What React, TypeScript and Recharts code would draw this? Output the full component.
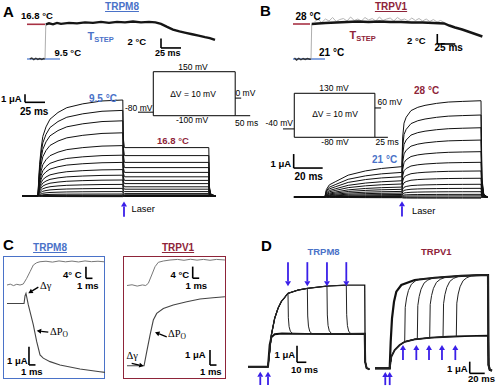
import React from 'react';
import { LineChart, Line, XAxis, YAxis, ReferenceLine } from 'recharts';

// ---------------- colours / fonts
const BLUE = '#4a72c8';
const MAROON = '#8e2439';
const ARROW = '#3a1fe8';
const T_RED = '#a83244';
const T_BLUE = '#6a8fd6';
const SANS = '"Liberation Sans", Arial, Helvetica, sans-serif';
const SERIF = '"Liberation Serif", "Times New Roman", serif';

// ---------------- Panel A : TRPM8 temperature step (°C vs ms)
const aTempPreTime = [-19, -16.5, -14, -11.5, -9, -6.5, -4, -1.5, 0];
const aTempPreValue = [9.5, 9.7, 9.35, 9.65, 9.4, 9.6, 9.4, 9.6, 9.5];
const aTempPostTime = [1, 5, 10, 15, 20, 30, 40, 50, 60, 70, 80, 90, 100, 110, 120, 130, 138, 145, 152, 160, 168, 176, 184, 192, 200, 206, 212.5];
const aTempPostValue = [16.8, 17.0, 16.8, 17.1, 16.9, 17.1, 17.0, 17.2, 17.1, 17.3, 17.1, 17.3, 17.2, 17.4, 17.2, 17.3, 17.2, 16.9, 16.3, 15.7, 15.3, 15.0, 14.7, 14.4, 14.1, 13.9, 13.5];
const aTempLevels = [16.8, 9.5];

// Panel A : current family (µA vs ms), laser at 106 ms
const aActTime = [-20, 0, 0.6, 2, 4, 6, 10, 15, 25, 36, 56, 80, 106];
const aActShape = [0, 0, 0.12, 0.33, 0.5, 0.62, 0.72, 0.8, 0.87, 0.92, 0.96, 0.99, 1];
const aPostTime = [106.6, 108, 115, 150, 213.5];
const aPostShape = [0.8, 1, 1, 1, 1];
const aEndTime = [214.2, 216, 222];
const aEndShape = [0.2, 0.04, 0];
const aPre = [12.0, 10.7, 9.4, 7.9, 6.3, 5.1, 4.2, 3.3, 2.6, 2.0, 1.45, 0.95, 0.55, 0.25, 0.1, 0.03, -0.03, -0.08];
const aPost = [6.05, 5.05, 4.2, 3.55, 2.95, 2.4, 1.95, 1.55, 1.15, 0.85, 0.55, 0.3, 0.15, 0.06, 0.02, 0.0, -0.03, -0.06];
const aLaser = 107.5;

// Panel A : voltage protocol (mV vs ms)
const aProtoHoldTime = [-51, 0];
const aProtoHoldV = [-80, -80];
const aProtoBoxTime = [0, 0, 273, 273, 0];
const aProtoBoxV = [-100, 150, 150, -100, -100];
const aProtoTailTime = [273, 293];
const aProtoTailV = [0, 0];

// ---------------- Panel B : TRPV1 temperature step
const bTempPreTime = [-23, -20, -17, -14, -11, -8, -5, -2, 0];
const bTempPreValue = [21.2, 20.8, 21.15, 20.85, 21.1, 20.9, 21.1, 20.95, 21];
const bTempPostTime = [1, 10, 20, 35, 50, 65, 80, 95, 110, 125, 140, 155, 170, 185, 192, 200, 210, 218, 228, 238];
const bTempPostValue = [28.0, 28.1, 28.2, 28.3, 28.4, 28.5, 28.4, 28.5, 28.4, 28.4, 28.3, 28.3, 28.2, 28.1, 27.7, 27.3, 26.9, 26.5, 26.0, 25.5];
const bNoiseTime = [5, 10, 15, 20, 25, 30, 35, 40, 45, 50, 55, 60, 65, 70, 75, 80, 85, 90, 95, 100, 105, 110, 115, 120, 125, 130, 135, 140, 145, 150, 155, 160, 165, 170, 175, 180, 185];
const bNoiseValue = [28.5, 28.9, 28.3, 29.0, 28.6, 29.3, 28.5, 28.9, 29.1, 28.6, 29.4, 28.7, 29.0, 28.6, 29.3, 28.8, 29.1, 28.6, 29.4, 28.7, 29.0, 29.2, 28.6, 29.3, 28.8, 29.0, 28.6, 29.2, 28.7, 29.1, 28.6, 29.0, 28.5, 28.9, 28.4, 28.7, 28.3];
const bTempLevels = [28, 21];

// Panel B : current family, laser at 53 ms
const bActTime = [-21.4, 0, 0.5, 1, 3, 7, 16, 28, 39, 53];
const bActShape = [0, 0, 0.15, 0.25, 0.4, 0.5, 0.72, 0.86, 0.94, 1];
const bHeatTime = [53.6, 54.5, 56, 59.3, 64, 69, 77, 85, 95, 107.6];
const bHeatShape = [0.45, 0.66, 0.75, 0.85, 0.9, 0.93, 0.96, 0.98, 0.99, 1];
const bEndTime = [108.2, 109.5, 112];
const bEndShape = [0.2, 0.03, 0];
const bPre = [2.17, 1.76, 1.45, 1.16, 0.93, 0.71, 0.55, 0.4, 0.28, 0.18, 0.1, 0.05, 0.02, -0.02, -0.05];
const bPost = [6.88, 5.86, 4.95, 4.07, 3.24, 2.48, 1.86, 1.34, 0.91, 0.62, 0.38, 0.19, 0.08, -0.02, -0.08];
const bLaser = 53.1;

// Panel B : voltage protocol
const bProtoHoldTime = [-21.7, 0];
const bProtoHoldV = [-40, -40];
const bProtoBoxTime = [0, 0, 155, 155, 0];
const bProtoBoxV = [-80, 130, 130, -80, -80];
const bProtoTailTime = [155, 167];
const bProtoTailV = [60, 60];

// ---------------- Panel C : fast kinetics (ms, °C, µA)
const cLTempTime = [-2, -1.5, -1, -0.5, 0, 0.5, 1.03, 1.54, 2.05, 2.57, 3.08, 4, 5, 6, 7, 8, 9, 10, 11, 12, 13];
const cLTempValue = [0, 0.3, -0.2, 0.25, 0, 0.34, 2.31, 4.59, 6.9, 7.69, 8.03, 8.2, 7.9, 8.3, 8.0, 8.25, 7.95, 8.3, 8.05, 8.2, 8.0];
const cLCurTime = [-2, 0.62, 0.77, 0.92, 1.28, 2.05, 2.57, 3.08, 3.58, 4.62, 6.15, 9.23, 12.3, 13.08];
const cLCurValue = [0, 0, 0.41, 0.55, -0.08, -1.17, -2.09, -2.81, -2.99, -3.18, -3.36, -3.58, -3.73, -3.77];
const cRTempTime = [-2.77, -2, -1.2, -0.4, 0.11, 0.51, 1.03, 1.54, 2.05, 2.82, 3.85, 5, 6, 7, 8, 9, 10, 11, 12.3];
const cRTempValue = [0, 0.25, -0.2, 0.2, 0, 0.76, 3.62, 6.48, 8.0, 8.45, 8.79, 9.0, 8.7, 9.05, 8.75, 9.0, 8.7, 9.0, 8.8];
const cRCurTime = [-2.77, -0.15, 0.26, 0.77, 1.28, 1.8, 2.82, 4.35, 6.42, 8.46, 10.46, 12.3];
const cRCurValue = [0, 0, 0.93, 2.05, 3.05, 3.49, 3.82, 4.05, 4.27, 4.45, 4.53, 4.6];

// ---------------- Panel D : TRPM8 (left) deactivation, TRPV1 (right) activation
const dLUpperTime = [-21.5, 0, 1.8, 3.6, 7.2, 10.8, 14.3, 21.5, 32.3, 42.3, 63.4, 84.2, 104];
const dLUpper = [0, 0, 0.9, 1.91, 2.92, 3.52, 3.92, 4.42, 4.62, 4.72, 4.86, 4.92, 4.92];
const dLLowerTime = [-21.5, 0, 1.8, 3.6, 7.2, 15, 40, 80, 104];
const dLLower = [0, 0, 1.31, 1.78, 1.96, 2.0, 1.98, 1.97, 1.99];
const dLSwitchTime = [21.5, 42.3, 63.4, 84.2];
const dLSwitchLow = [1.97, 1.95, 1.96, 1.94];
const dLDropOffset = [0.4, 1.2, 2.5, 5];
const dLDropFrac = [0.4, 0.18, 0.07, 0.01];
const dLEndTime = [104.5, 106, 109];
const dLEndValue = [0.3, -0.08, -0.15];

const dRUpperTime = [-20, -0.4, 0.93, 2.67, 5.33, 8.4, 15.1, 32.9, 59.6, 95.1, 121.7, 130.7];
const dRUpper = [0, 0, 2.27, 4.27, 5.69, 6.55, 7.12, 7.55, 7.74, 7.91, 7.97, 7.97];
const dRLowerTime = [-20, -0.4, 1.73, 6.27, 12.9, 19.6, 32.9, 55.1, 77.3, 99.6, 130.7];
const dRLower = [0, 0, 0.99, 1.56, 1.99, 2.27, 2.48, 2.62, 2.7, 2.76, 2.79];
const dRSwitchTime = [19.6, 36.4, 52.9, 70.7, 88.4];
const dRSwitchLow = [2.27, 2.51, 2.61, 2.68, 2.73];
const dRSwitchHigh = [7.62, 7.7, 7.76, 7.84, 7.9];
const dRRiseOffset = [0.7, 2.5, 5, 9, 14, 20];
const dRRiseFrac = [0.55, 0.7, 0.82, 0.92, 0.97, 1];
const dREndTime = [131.4, 133, 136];
const dREndValue = [0.3, -0.12, -0.2];
const dRArrowTime = [17.3, 35.1, 52, 69.3, 87.1];

// ---------------- helpers
type P = { t: number; v: number };
const zip = (t: number[], v: number[]): P[] => t.map((x, i) => ({ t: x, v: v[i] }));

const aTraces: P[][] = aPre.map((p, i) => {
  const q = aPost[i];
  return [
    ...aActTime.map((t, k) => ({ t, v: p * aActShape[k] })),
    ...aPostTime.map((t, k) => ({ t, v: p + (q - p) * aPostShape[k] })),
    ...aEndTime.map((t, k) => ({ t, v: q * aEndShape[k] })),
  ];
});
const bTraces: P[][] = bPre.map((p, i) => {
  const q = bPost[i];
  return [
    ...bActTime.map((t, k) => ({ t, v: p * bActShape[k] })),
    ...bHeatTime.map((t, k) => ({ t, v: p + (q - p) * bHeatShape[k] })),
    ...bEndTime.map((t, k) => ({ t, v: q * bEndShape[k] })),
  ];
});
const dLUpperPts = zip(dLUpperTime, dLUpper);
const dLLowerPts = zip(dLLowerTime, dLLower);
const dLEndPts = zip(dLEndTime, dLEndValue);
const dLSwitchTraces: P[][] = dLSwitchTime.map((ts, k) => {
  const up = dLUpper[dLUpperTime.indexOf(ts)];
  const low = dLSwitchLow[k];
  return [
    ...dLUpperPts.filter((p) => p.t <= ts),
    ...dLDropOffset.map((o, j) => ({ t: ts + o, v: low + dLDropFrac[j] * (up - low) })),
    ...dLLowerPts.filter((p) => p.t > ts + 5),
    ...dLEndPts,
  ];
});
const dRUpperPts = zip(dRUpperTime, dRUpper);
const dRLowerPts = zip(dRLowerTime, dRLower);
const dREndPts = zip(dREndTime, dREndValue);
const dRSwitchTraces: P[][] = dRSwitchTime.map((ts, k) => {
  const low = dRSwitchLow[k];
  const high = dRSwitchHigh[k];
  return [
    ...dRLowerPts.filter((p) => p.t < ts),
    { t: ts, v: low },
    ...dRRiseOffset.map((o, j) => ({ t: ts + o, v: low + dRRiseFrac[j] * (high - low) })),
    ...dRUpperPts.filter((p) => p.t > ts + 20),
    ...dREndPts,
  ];
});

const ln = (key: string, data: P[], stroke = '#111', w = 1, axis: any = 0) => (
  <Line
    key={key}
    data={data}
    dataKey="v"
    yAxisId={axis}
    type="linear"
    stroke={stroke}
    strokeWidth={w}
    dot={false}
    activeDot={false}
    isAnimationActive={false}
  />
);

const seg = (key: string, x1: number, y1: number, x2: number, y2: number, stroke = '#000', w = 1.5, axis: any = 0) => (
  <ReferenceLine
    key={key}
    yAxisId={axis}
    segment={[{ x: x1, y: y1 }, { x: x2, y: y2 }]}
    stroke={stroke}
    strokeWidth={w}
    ifOverflow="visible"
  />
);

const scaleBar = (key: string, x: number, yTop: number, yBot: number, xEnd: number, axis: any = 0) => [
  seg(key + 'v', x, yTop, x, yBot, '#000', 1.6, axis),
  seg(key + 'h', x, yBot, xEnd, yBot, '#000', 1.6, axis),
];

const arrowShape = (color: string, w: number, hl: number, hw: number) => (p: any) => {
  const { x1, y1, x2, y2 } = p;
  if ([x1, y1, x2, y2].some((n) => typeof n !== 'number' || isNaN(n))) return <g />;
  const dx = x2 - x1;
  const dy = y2 - y1;
  const L = Math.hypot(dx, dy) || 1;
  const ux = dx / L;
  const uy = dy / L;
  const bx = x2 - ux * hl;
  const by = y2 - uy * hl;
  return (
    <g>
      <line x1={x1} y1={y1} x2={bx} y2={by} stroke={color} strokeWidth={w} />
      <polygon points={`${x2},${y2} ${bx - uy * hw},${by + ux * hw} ${bx + uy * hw},${by - ux * hw}`} fill={color} />
    </g>
  );
};

const arrow = (key: string, x1: number, y1: number, x2: number, y2: number, color = ARROW, axis: any = 0, w = 2, hl = 5, hw = 3) => (
  <ReferenceLine
    key={key}
    yAxisId={axis}
    segment={[{ x: x1, y: y1 }, { x: x2, y: y2 }]}
    ifOverflow="visible"
    shape={arrowShape(color, w, hl, hw)}
  />
);

function Plot({ left, top, width, height, x, y, y2, children }: any) {
  return (
    <div style={{ position: 'absolute', left, top, width, height }}>
      <LineChart width={width} height={height} margin={{ top: 0, right: 0, bottom: 0, left: 0 }}>
        <XAxis type="number" dataKey="t" domain={x} hide allowDataOverflow />
        <YAxis type="number" domain={y} hide allowDataOverflow />
        {y2 ? <YAxis yAxisId="T" type="number" domain={y2} hide allowDataOverflow /> : null}
        {children}
      </LineChart>
    </div>
  );
}

function Tx({ x, y, s = 10, c = '#000', b = true, center = false, u = false, f = SANS, children }: any) {
  return (
    <div
      style={{
        position: 'absolute',
        left: x,
        top: y - 0.85 * s,
        fontSize: s,
        lineHeight: 1,
        fontWeight: b ? 700 : 400,
        color: c,
        whiteSpace: 'nowrap',
        fontFamily: f,
        transform: center ? 'translateX(-50%)' : undefined,
        textDecoration: u ? 'underline' : undefined,
      }}
    >
      {children}
    </div>
  );
}

const Tstep = ({ x, y, c }: any) => (
  <Tx x={x} y={y} s={11} c={c}>
    T<span style={{ fontSize: 7.5, position: 'relative', top: 2 }}>STEP</span>
  </Tx>
);

export default function App() {
  const aTempStep = [aTempPreTime.length - 1].map((i) => [
    { t: aTempPreTime[i], v: aTempPreValue[i] },
    { t: aTempPostTime[0], v: aTempPostValue[0] },
  ])[0];
  const bTempStep = [bTempPreTime.length - 1].map((i) => [
    { t: bTempPreTime[i], v: bTempPreValue[i] },
    { t: bTempPostTime[0], v: bTempPostValue[0] },
  ])[0];

  return (
    <div style={{ position: 'absolute', left: 0, top: 0, width: 497, height: 387, background: '#fff', overflow: 'hidden', fontFamily: SANS }}>
      {/* ---------- Panel A temperature */}
      <Plot left={22} top={12} width={200} height={55} x={[-28.75, 221.25]} y={[7.81, 19.39]}>
        {seg('ar', -22.5, aTempLevels[0], 0, aTempLevels[0], T_RED, 1.6)}
        {seg('ab', -22.5, aTempLevels[1], 18.75, aTempLevels[1], T_BLUE, 1.6)}
        {ln('atpre', zip(aTempPreTime, aTempPreValue), '#333', 1.4)}
        {ln('atstep', aTempStep, '#999', 0.8)}
        {ln('atpost', zip(aTempPostTime, aTempPostValue), '#151515', 2.4)}
        {scaleBar('ats', 145, 13.82, 11.82, 170)}
      </Plot>

      {/* ---------- Panel A currents */}
      <Plot left={20} top={88} width={200} height={130} x={[-22.5, 227.5]} y={[-2.75, 13.5]}>
        {aTraces.map((d, i) => ln('a' + i, d, '#111', 1))}
        {scaleBar('acs', -16.25, 12.71, 11.71, 8.75)}
        {arrow('alaser', aLaser, -2.6, aLaser, -0.7, ARROW, 0, 1.8, 5, 3)}
      </Plot>

      {/* ---------- Panel A protocol */}
      <Plot left={125} top={60} width={130} height={65} x={[-94.3, 339]} y={[-152.8, 216.5]}>
        {ln('aph', zip(aProtoHoldTime, aProtoHoldV), '#000', 1)}
        {ln('apb', zip(aProtoBoxTime, aProtoBoxV), '#000', 1)}
        {ln('apt', zip(aProtoTailTime, aProtoTailV), '#000', 1)}
        {seg('ap50', 273, -100, 323, -100, '#000', 1)}
      </Plot>

      {/* ---------- Panel B temperature */}
      <Plot left={290} top={12} width={200} height={55} x={[-29.17, 248.6]} y={[19.4, 30.4]}>
        {seg('br', -25, bTempLevels[0], -1.4, bTempLevels[0], T_RED, 1.6)}
        {seg('bb', -25, bTempLevels[1], 19.4, bTempLevels[1], T_BLUE, 1.6)}
        {ln('btpre', zip(bTempPreTime, bTempPreValue), '#333', 1.4)}
        {ln('btstep', bTempStep, '#999', 0.8)}
        {ln('btnoise', zip(bNoiseTime, bNoiseValue), '#b5b5b5', 1)}
        {ln('btpost', zip(bTempPostTime, bTempPostValue), '#151515', 2.4)}
        {scaleBar('bts', 175.4, 26, 24, 200.4)}
      </Plot>

      {/* ---------- Panel B currents */}
      <Plot left={280} top={88} width={210} height={130} x={[-31.03, 113.8]} y={[-1.5, 7.79]}>
        {bTraces.map((d, i) => ln('b' + i, d, '#111', 1))}
        {scaleBar('bcs', -21.6, 3.07, 2.07, -1.6)}
        {arrow('blaser', bLaser, -1.4, bLaser, -0.3, ARROW, 0, 1.8, 5, 3)}
      </Plot>

      {/* ---------- Panel B protocol */}
      <Plot left={265} top={85} width={140} height={60} x={[-56.3, 212.9]} y={[-116.8, 169.6]}>
        {ln('bph', zip(bProtoHoldTime, bProtoHoldV), '#000', 1)}
        {ln('bpb', zip(bProtoBoxTime, bProtoBoxV), '#000', 1)}
        {ln('bpt', zip(bProtoTailTime, bProtoTailV), '#000', 1)}
        {seg('bp25', 155, -80, 180, -80, '#000', 1)}
      </Plot>

      {/* ---------- Panel C frames */}
      <div style={{ position: 'absolute', left: 3, top: 256, width: 100, height: 121, border: `1.5px solid ${BLUE}` }} />
      <div style={{ position: 'absolute', left: 123, top: 256, width: 101, height: 121, border: `1.5px solid ${MAROON}` }} />

      <Plot left={5} top={257} width={100} height={122} x={[-2.31, 13.08]} y={[-4.13, 2.54]} y2={[-32.4, 9.66]}>
        {ln('clt', zip(cLTempTime, cLTempValue), '#777', 1, 'T')}
        {ln('clc', zip(cLCurTime, cLCurValue), '#444', 1.1)}
        {scaleBar('clts', 10.15, 6.31, 2.31, 11.15, 'T')}
        {scaleBar('clcs', 1.38, -2.36, -3.36, 2.38)}
        {arrow('clg', 2.82, 0.89, 1.28, 0.56, '#000', 0, 1.3, 4.5, 2.5)}
        {arrow('clp', 4.35, -1.57, 2.57, -1.49, '#000', 0, 1.3, 4.5, 2.5)}
      </Plot>

      <Plot left={125} top={257} width={100} height={122} x={[-3.08, 12.31]} y={[-0.88, 7.25]} y2={[-32.24, 9.83]}>
        {ln('crt', zip(cRTempTime, cRTempValue), '#777', 1, 'T')}
        {ln('crc', zip(cRCurTime, cRCurValue), '#444', 1.1)}
        {scaleBar('crts', 7.34, 6.52, 2.52, 8.34, 'T')}
        {scaleBar('crcs', 10, 1.05, 0.05, 11)}
        {arrow('crg', -2.05, 0.16, -0.2, -0.02, '#000', 0, 1.3, 4.5, 2.5)}
        {arrow('crp', 3.34, 1.93, 1.54, 2.23, '#000', 0, 1.3, 4.5, 2.5)}
      </Plot>

      {/* ---------- Panel D left (TRPM8) */}
      <Plot left={248} top={258} width={125} height={130} x={[-21.5, 112.9]} y={[-1.28, 6.55]}>
        {ln('dlu', [...dLUpperPts, ...dLEndPts], '#111', 1.3)}
        {ln('dll', [...dLLowerPts, ...dLEndPts], '#111', 2)}
        {dLSwitchTraces.map((d, i) => ln('dls' + i, d, '#222', 1))}
        {dLSwitchTime.map((t, i) => arrow('dla' + i, t, 6.3, t, 4.85, ARROW, 0, 1.8, 5, 3))}
        {arrow('dlp0', -8.3, -1.1, -8.3, -0.3, ARROW, 0, 1.8, 5, 3)}
        {arrow('dlp1', 0, -1.1, 0, -0.3, ARROW, 0, 1.8, 5, 3)}
        {scaleBar('dls', 31.2, 1.27, 0.27, 41.2)}
      </Plot>

      {/* ---------- Panel D right (TRPV1) */}
      <Plot left={375} top={258} width={120} height={130} x={[-20, 140]} y={[-1.68, 9.43]}>
        {ln('dru', [...dRUpperPts, ...dREndPts], '#111', 2.2)}
        {ln('drl', [...dRLowerPts, ...dREndPts], '#111', 1.8)}
        {dRSwitchTraces.map((d, i) => ln('drs' + i, d, '#222', 1))}
        {dRArrowTime.map((t, i) => arrow('dra' + i, t, 0.71, t, 2.0, ARROW, 0, 1.8, 5, 3))}
        {arrow('drp0', -6.3, -1.43, -6.3, -0.32, ARROW, 0, 1.8, 5, 3)}
        {arrow('drp1', -0.4, -1.43, -0.4, -0.32, ARROW, 0, 1.8, 5, 3)}
        {scaleBar('drs', 106.3, 0.57, -0.43, 126.3)}
      </Plot>

      {/* ================= TEXT ================= */}
      {/* Panel A */}
      <Tx x={3} y={17} s={15}>A</Tx>
      <Tx x={122} y={10} s={10} c={BLUE} center u>TRPM8</Tx>
      <Tx x={21} y={19.5} s={9.5}>16.8 °C</Tx>
      <Tx x={54.5} y={56} s={9.5}>9.5 °C</Tx>
      <Tstep x={87.5} y={40} c={BLUE} />
      <Tx x={127.5} y={45} s={9.5}>2 °C</Tx>
      <Tx x={155} y={56.5} s={9}>25 ms</Tx>
      <Tx x={193} y={70} s={8.5} b={false} center>150 mV</Tx>
      <Tx x={193} y={97} s={8.5} b={false} center>ΔV = 10 mV</Tx>
      <Tx x={125} y={111} s={8.5} b={false}>-80 mV</Tx>
      <Tx x={235.5} y={96.5} s={8.5} b={false}>0 mV</Tx>
      <Tx x={192} y={123} s={8.5} b={false} center>-100 mV</Tx>
      <Tx x={235} y={126} s={8.5} b={false}>50 ms</Tx>
      <Tx x={1} y={102} s={9.5}>1 μA</Tx>
      <Tx x={20} y={115.5} s={10}>25 ms</Tx>
      <Tx x={89} y={102} s={10} c={BLUE}>9.5 °C</Tx>
      <Tx x={157} y={144} s={9.5} c={MAROON}>16.8 °C</Tx>
      <Tx x={131.5} y={213} s={9.3} b={false}>Laser</Tx>

      {/* Panel B */}
      <Tx x={260} y={16} s={15}>B</Tx>
      <Tx x={391} y={10.5} s={10} c={MAROON} center u>TRPV1</Tx>
      <Tx x={295.5} y={20} s={10}>28 °C</Tx>
      <Tx x={319} y={56.5} s={10}>21 °C</Tx>
      <Tstep x={349.5} y={39} c={MAROON} />
      <Tx x={407} y={44} s={9.5}>2 °C</Tx>
      <Tx x={434.5} y={51.5} s={10}>25 ms</Tx>
      <Tx x={334} y={91.5} s={8.5} b={false} center>130 mV</Tx>
      <Tx x={335} y={117} s={8.5} b={false} center>ΔV = 10 mV</Tx>
      <Tx x={265.5} y={126.7} s={8.5} b={false}>-40 mV</Tx>
      <Tx x={377.5} y={105.7} s={8.5} b={false}>60 mV</Tx>
      <Tx x={335} y={145} s={8.5} b={false} center>-80 mV</Tx>
      <Tx x={375.5} y={145.7} s={8.5} b={false}>25 ms</Tx>
      <Tx x={414} y={94} s={10} c={MAROON}>28 °C</Tx>
      <Tx x={372} y={163} s={10} c={BLUE}>21 °C</Tx>
      <Tx x={270.5} y={166.7} s={9.5}>1 μA</Tx>
      <Tx x={294.5} y={180} s={10}>20 ms</Tx>
      <Tx x={412} y={215} s={9.3} b={false}>Laser</Tx>

      {/* Panel C */}
      <Tx x={3} y={250} s={15}>C</Tx>
      <Tx x={50} y={251} s={10} c={BLUE} center u>TRPM8</Tx>
      <Tx x={178} y={251} s={10} c={MAROON} center u>TRPV1</Tx>
      <Tx x={63} y={278.3} s={9.5}>4° C</Tx>
      <Tx x={77} y={289} s={9.5}>1 ms</Tx>
      <Tx x={40} y={290} s={10.5} b={false} f={SERIF}>Δγ</Tx>
      <Tx x={50} y={335.7} s={10.5} b={false} f={SERIF}>
        ΔP<span style={{ fontSize: 7.5, position: 'relative', top: 2 }}>O</span>
      </Tx>
      <Tx x={7} y={364.3} s={9.5}>1 μA</Tx>
      <Tx x={21} y={375} s={9.5}>1 ms</Tx>
      <Tx x={170.5} y={278.3} s={9.5}>4 °C</Tx>
      <Tx x={185.5} y={289} s={9.5}>1 ms</Tx>
      <Tx x={126.5} y={360} s={10.5} b={false} f={SERIF}>Δγ</Tx>
      <Tx x={168} y={338.3} s={10.5} b={false} f={SERIF}>
        ΔP<span style={{ fontSize: 7.5, position: 'relative', top: 2 }}>O</span>
      </Tx>
      <Tx x={185} y={358.3} s={9.5}>1 μA</Tx>
      <Tx x={200} y={375} s={9.5}>1 ms</Tx>

      {/* Panel D */}
      <Tx x={261} y={251} s={15}>D</Tx>
      <Tx x={323.5} y={255} s={9.5} c={BLUE} center>TRPM8</Tx>
      <Tx x={436.3} y={255} s={9.5} c={MAROON} center>TRPV1</Tx>
      <Tx x={274.5} y={357.7} s={9.5}>1 μA</Tx>
      <Tx x={291} y={373.3} s={9.5}>10 ms</Tx>
      <Tx x={447} y={371.7} s={9.5}>1 μA</Tx>
      <Tx x={468} y={381.7} s={9.5}>20 ms</Tx>
    </div>
  );
}
